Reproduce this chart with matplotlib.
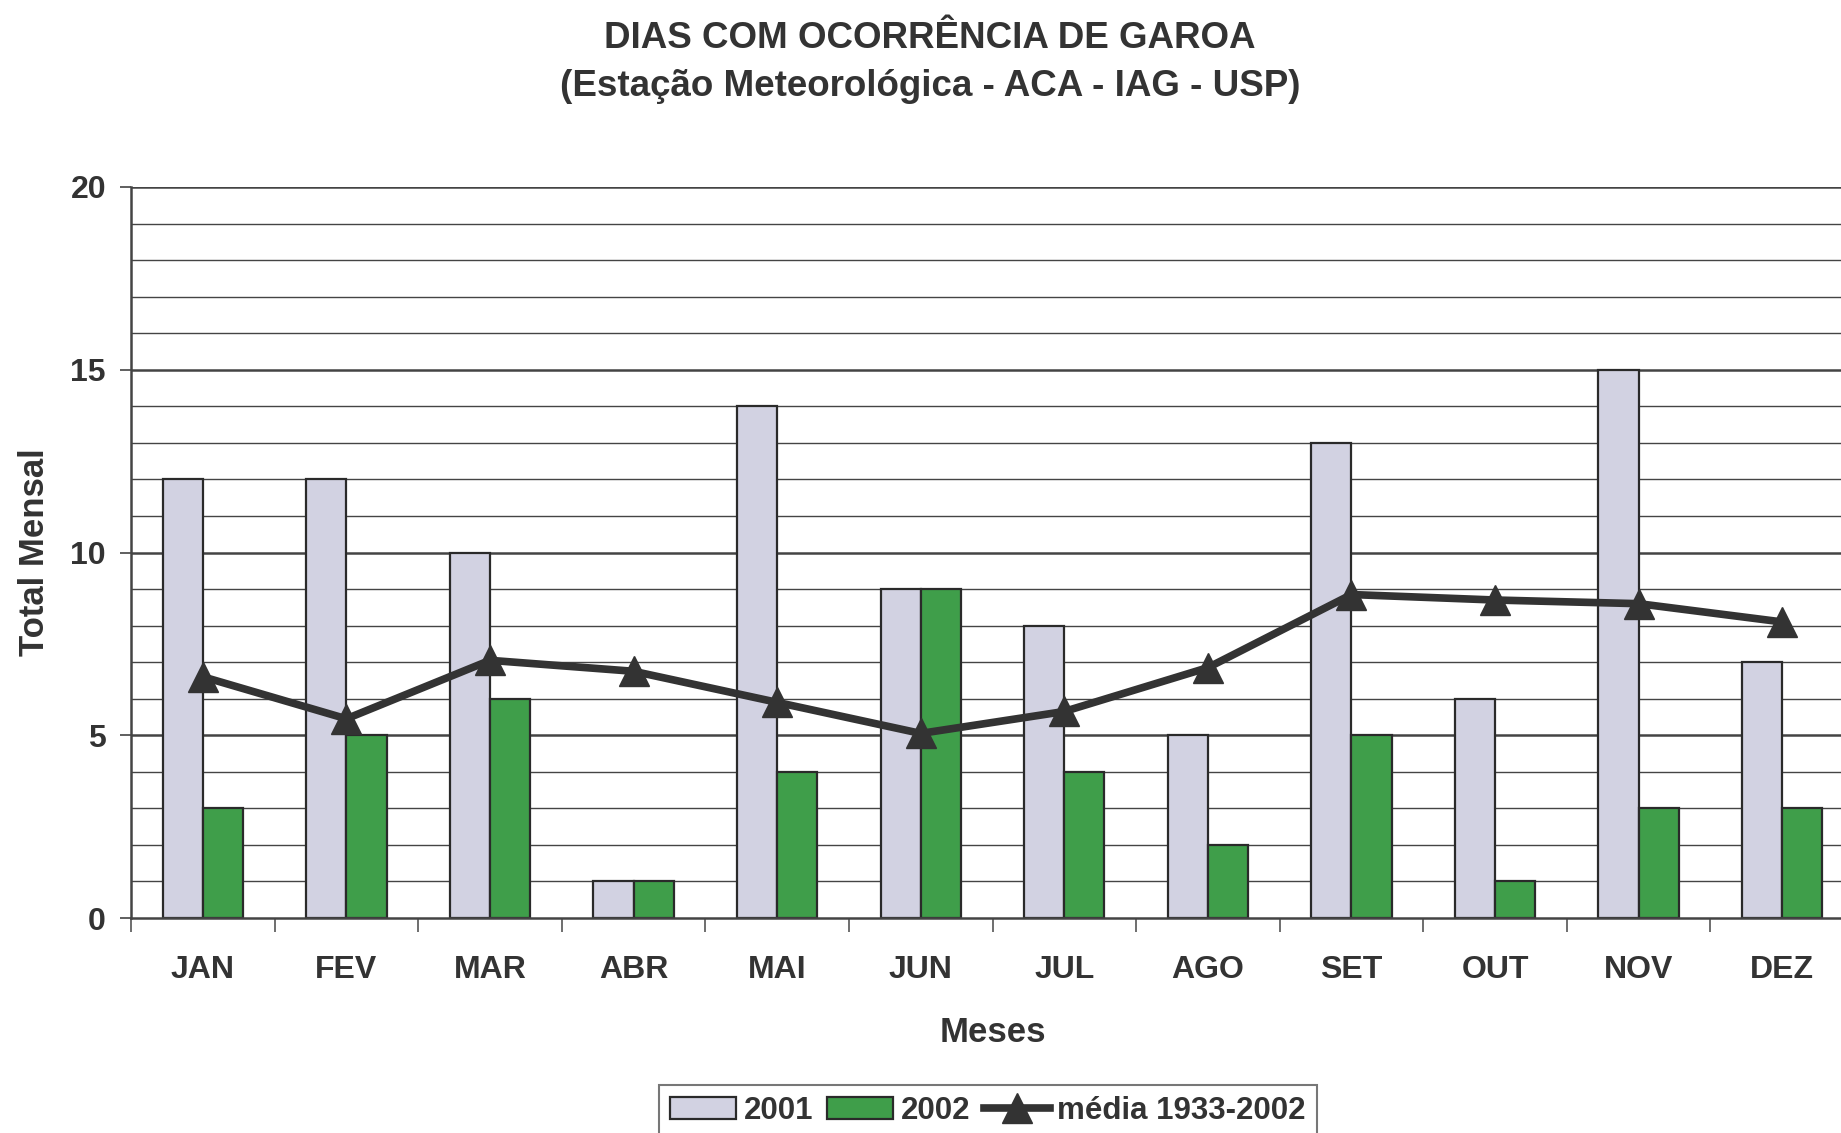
import numpy as np
import matplotlib.pyplot as plt
from matplotlib.ticker import MultipleLocator

plt.rcParams['font.family'] = ['Liberation Sans', 'DejaVu Sans']
plt.rcParams['font.weight'] = 'bold'
plt.rcParams['axes.labelweight'] = 'bold'

# dados
meses = ['JAN', 'FEV', 'MAR', 'ABR', 'MAI', 'JUN', 'JUL', 'AGO', 'SET', 'OUT', 'NOV', 'DEZ']
dias_2001 = [12, 12, 10, 1, 14, 9, 8, 5, 13, 6, 15, 7]
dias_2002 = [3, 5, 6, 1, 4, 9, 4, 2, 5, 1, 3, 3]
media_1933_2002 = [6.6, 5.45, 7.05, 6.75, 5.9, 5.05, 5.65, 6.85, 8.85, 8.7, 8.6, 8.1]

txt = '#333333'
x = np.arange(len(meses))
w = 0.28

fig = plt.figure(figsize=(18.41, 11.33), dpi=100)
ax = fig.add_axes([131 / 1841, 1 - 918 / 1133, (1854 - 131) / 1841, (918 - 187) / 1133])

# grade horizontal
for v in range(1, 21):
    lw = 1.8 if v % 5 == 0 else 1.0
    ax.axhline(v, color='#444444', lw=lw, zorder=0)

b1 = ax.bar(x - w / 2, dias_2001, width=w, color='#d2d2e2', edgecolor='#2a2a2a', lw=1.6,
            label='2001', zorder=2)
b2 = ax.bar(x + w / 2, dias_2002, width=w, color='#3f9e4a', edgecolor='#2a2a2a', lw=1.6,
            label='2002', zorder=2)
ln, = ax.plot(x, media_1933_2002, color='#333333', lw=5.5, marker='^', markersize=22,
              label='média 1933-2002', zorder=3)

ax.set_xlim(-0.5, len(meses) - 0.5)
ax.set_ylim(0, 20)
ax.yaxis.set_major_locator(MultipleLocator(5))
ax.set_xticks(np.arange(-0.5, len(meses), 1), minor=False)
ax.set_xticklabels([])
ax.set_xticks(x, minor=True)
ax.set_xticklabels(meses, minor=True)
ax.tick_params(axis='x', which='major', length=10, width=1.2, color='#555555', direction='out')
ax.tick_params(axis='x', which='minor', length=0, pad=27, labelsize=23, labelcolor=txt)
ax.tick_params(axis='y', length=8, width=1.2, color='#444444', pad=10, labelsize=23, labelcolor=txt)

for s in ['top', 'right']:
    ax.spines[s].set_visible(False)
ax.spines['left'].set_color('#444444')
ax.spines['left'].set_linewidth(1.8)
ax.spines['bottom'].set_color('#444444')
ax.spines['bottom'].set_linewidth(1.8)

ax.set_ylabel('Total Mensal', fontsize=25, color=txt, labelpad=14)
ax.set_xlabel('Meses', fontsize=25, color=txt, labelpad=22)

fig.text(930 / 1841, 1 - 38 / 1133, 'DIAS COM OCORRÊNCIA DE GAROA', ha='center', va='center',
         fontsize=26.5, color=txt)
fig.text(930 / 1841, 1 - 86 / 1133, '(Estação Meteorológica - ACA - IAG - USP)', ha='center',
         va='center', fontsize=26.5, color=txt)

leg = fig.legend([b1, b2, ln], ['2001', '2002', 'média 1933-2002'], loc='center',
                 bbox_to_anchor=(988 / 1841, 1 - 1111 / 1133), ncol=3,
                 fontsize=22.5, frameon=True, fancybox=False, edgecolor='#555555',
                 handlelength=2.1, handletextpad=0.25, columnspacing=0.45, borderpad=0.35)
for t in leg.get_texts():
    t.set_color(txt)
leg.get_frame().set_linewidth(1.5)

fig.savefig('out.png', dpi=100, facecolor='white')
